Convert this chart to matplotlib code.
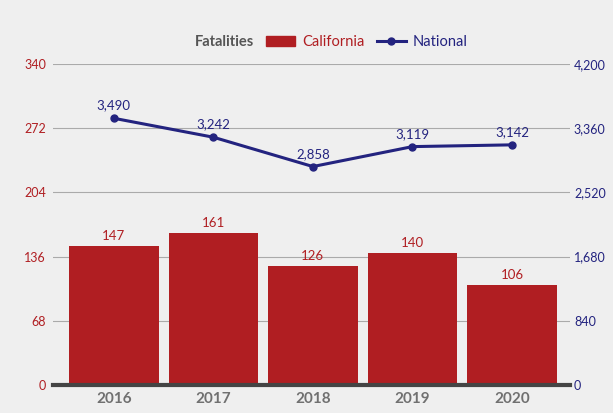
import matplotlib.pyplot as plt
from matplotlib.ticker import FuncFormatter
from matplotlib.patches import Patch
from matplotlib.lines import Line2D

years = ['2016', '2017', '2018', '2019', '2020']
california = [147, 161, 126, 140, 106]
national = [3490, 3242, 2858, 3119, 3142]

left_ticks = [0, 68, 136, 204, 272, 340]
right_ticks = [0, 840, 1680, 2520, 3360, 4200]

red = '#b01e22'
navy = '#23237f'
bg = '#efefef'

plt.rcParams['font.family'] = ['Lato', 'DejaVu Sans']

fig = plt.figure(figsize=(6.13, 4.13), dpi=100, facecolor=bg)
ax = fig.add_axes([0.0865, 0.068, 0.843, 0.777], facecolor=bg)
ax2 = ax.twinx()

x = range(len(years))
ax.bar(x, california, width=0.9, color=red, zorder=3)
for i, v in enumerate(california):
    ax.text(i, v + 4, str(v), ha='center', va='bottom', color=red, fontsize=9.5)

ax2.plot(x, national, color=navy, lw=2.2, marker='o', ms=5, zorder=4)
for i, v in enumerate(national):
    ax2.text(i, v + 90, f'{v:,}', ha='center', va='bottom', color=navy, fontsize=9.5)

ax.set_xlim(-0.61, 4.58)
ax.set_ylim(0, 340)
ax2.set_ylim(0, 4200)
ax.set_yticks(left_ticks)
ax2.set_yticks(right_ticks)
ax2.yaxis.set_major_formatter(FuncFormatter(lambda v, p: f'{int(v):,}'))

ax.set_xticks(list(x))
ax.set_xticklabels(years, fontsize=11, fontweight='bold', color='#707070')
ax.tick_params(axis='x', length=0, pad=5)
ax.tick_params(axis='y', labelcolor=red, labelsize=9, length=0, pad=5)
ax2.tick_params(axis='y', labelcolor=navy, labelsize=9, length=0, pad=3)

ax.grid(axis='y', color='#aaaaaa', lw=0.8, zorder=0)
for a in (ax, ax2):
    for s in a.spines.values():
        s.set_visible(False)
ax.axhline(0, color='#444444', lw=3, zorder=5, clip_on=False)

handles = [Line2D([], [], lw=0),
           Patch(color=red),
           Line2D([], [], color=navy, lw=2.2, marker='o', ms=5)]
labels = ['Fatalities', 'California', 'National']
leg = fig.legend(handles, labels, loc='center', bbox_to_anchor=(0.511, 0.898), ncol=3,
                 frameon=False, fontsize=10.5, handlelength=2.0, columnspacing=0.8,
                 handletextpad=0.5)
texts = leg.get_texts()
texts[0].set_color('#555555')
texts[0].set_fontweight('bold')
texts[1].set_color(red)
texts[2].set_color(navy)
leg.legend_handles[0].set_visible(False)

fig.savefig('out.png', dpi=100, facecolor=bg)
